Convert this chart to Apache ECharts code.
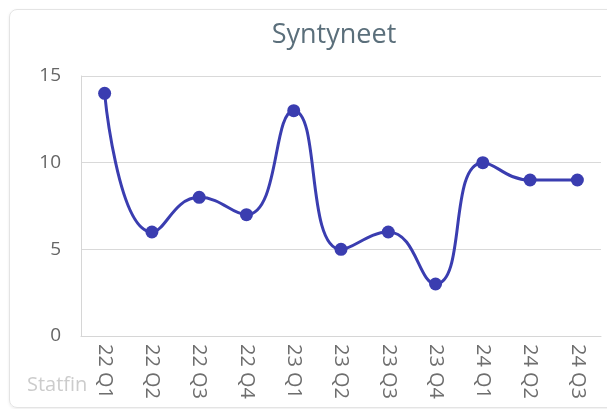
<!DOCTYPE html>
<html>
<head>
<meta charset="utf-8">
<script src="https://cdn.jsdelivr.net/npm/echarts@6/dist/echarts.min.js"></script>
<style>
  body { margin: 0; background: #fff; }
  .card { position: absolute; left: 9px; top: 9px; width: 604px; height: 397px; border: 1px solid #e4e4e4; border-radius: 8px; box-shadow: 0 1px 3px rgba(0,0,0,0.08); }
  #main { position: absolute; left: 0; top: 0; width: 607px; height: 409px; }
</style>
</head>
<body>
<div class="card"></div>
<div id="main"></div>
<script>
  // kvartaalit
  var quarters = ['22 Q1', '22 Q2', '22 Q3', '22 Q4', '23 Q1', '23 Q2', '23 Q3', '23 Q4', '24 Q1', '24 Q2', '24 Q3'];
  // syntyneet
  var births = [14, 6, 8, 7, 13, 5, 6, 3, 10, 9, 9];
  var yTicks = [0, 5, 10, 15];

  var chart = echarts.init(document.getElementById('main'));
  chart.setOption({
    animation: false,
    textStyle: { fontFamily: 'Open Sans' },
    title: {
      text: 'Syntyneet',
      left: 329,
      textAlign: 'center',
      top: 17,
      textStyle: { fontSize: 27, fontWeight: 'normal', color: '#5b6f7b' }
    },
    graphic: [{
      type: 'text', left: 27, top: 375,
      style: { text: 'Statfin', fontSize: 20, fill: '#cccccc', fontFamily: 'Open Sans' }
    }],
    grid: { left: 81, right: 6, top: 76, bottom: 73 },
    xAxis: {
      type: 'category',
      data: quarters,
      axisLine: { lineStyle: { color: '#d6d6d6' } },
      axisTick: { show: false },
      axisLabel: { rotate: -90, color: '#6e6e6e', fontSize: 20, margin: 8 }
    },
    yAxis: {
      type: 'value',
      min: yTicks[0], max: yTicks[yTicks.length - 1], interval: 5,
      axisLine: { show: true, lineStyle: { color: '#d6d6d6' } },
      axisLabel: { color: '#666', fontSize: 19, margin: 20 },
      splitLine: { lineStyle: { color: '#d9d9d9' } }
    },
    series: [{
      type: 'line',
      data: births,
      smooth: 0.5,
      symbol: 'circle',
      symbolSize: 13,
      lineStyle: { color: '#3a3db0', width: 3 },
      itemStyle: { color: '#3a3db0' }
    }]
  });
</script>
</body>
</html>
